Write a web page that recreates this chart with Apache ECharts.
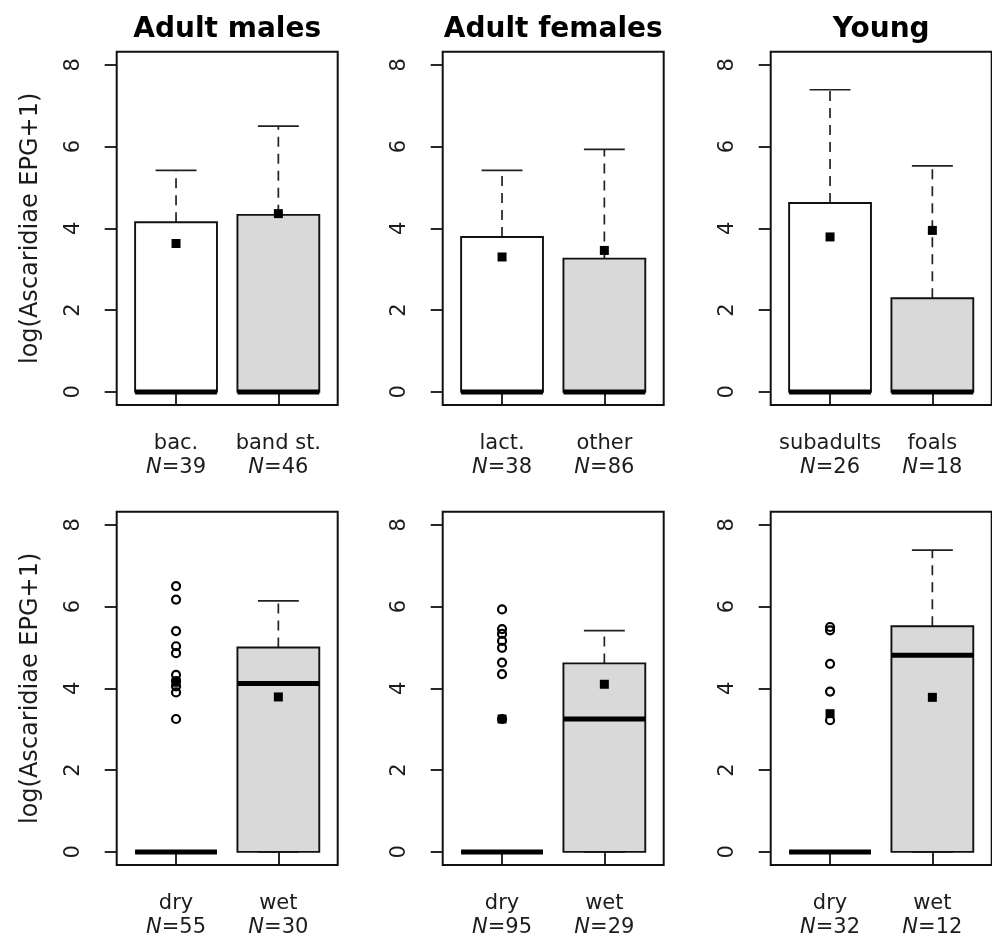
<!DOCTYPE html>
<html>
<head>
<meta charset="utf-8">
<script src="https://cdn.jsdelivr.net/npm/echarts/dist/echarts.min.js"></script>
<style>
html,body{margin:0;padding:0;background:#fff;}
#chart{width:992px;height:939px;}
</style>
</head>
<body>
<div id="chart"></div>
<script>
// ---------- data ----------
const titles = ['Adult males', 'Adult females', 'Young'];
const topCats = [['bac.', 'band st.'], ['lact.', 'other'], ['subadults', 'foals']];
const topN = [[39, 46], [38, 86], [26, 18]];
const bottomCats = [['dry', 'wet'], ['dry', 'wet'], ['dry', 'wet']];
const bottomN = [[55, 30], [95, 29], [32, 12]];
const yTicks = [0, 2, 4, 6, 8];
const yName = 'log(Ascaridiae EPG+1)';

// box statistics per group: [q1, median, q3, lower whisker, upper whisker]
const topBoxes = [
  [[0, 0, 4.15, 0, 5.42], [0, 0, 4.33, 0, 6.50]],
  [[0, 0, 3.79, 0, 5.42], [0, 0, 3.26, 0, 5.93]],
  [[0, 0, 4.62, 0, 7.39], [0, 0, 2.29, 0, 5.53]]
];
const bottomBoxes = [
  [[0, 0, 0, 0, 0], [0, 4.12, 5.00, 0, 6.14]],
  [[0, 0, 0, 0, 0], [0, 3.25, 4.61, 0, 5.41]],
  [[0, 0, 0, 0, 0], [0, 4.81, 5.52, 0, 7.38]]
];
// group means
const topMeans = [[3.63, 4.36], [3.30, 3.46], [3.79, 3.95]];
const bottomMeans = [[4.15, 3.79], [3.25, 4.10], [3.38, 3.78]];
// outliers per group
const bottomOutliers = [
  [[6.50, 6.17, 5.40, 5.03, 4.86, 4.33, 4.18, 4.05, 3.90, 3.25], []],
  [[5.93, 5.45, 5.33, 5.16, 4.99, 4.63, 4.35, 3.25], []],
  [[5.50, 5.42, 4.60, 3.92, 3.22], []]
];

// ---------- layout / style ----------
const FONT = '"DejaVu Sans", "Liberation Sans", sans-serif';
const colLeft = [116.7, 442.7, 770.7];
const rowTop = [51.7, 511.7];
const gridW = 221, gridH = 353.3;
const fills = ['#ffffff', '#d9d9d9'];
const INK = '#111111';
const TXT = '#1c1c1c';

const grids = [], xAxes = [], yAxes = [], series = [], graphics = [];

function renderBox(params, api) {
  const x = api.value(0), q1 = api.value(1), med = api.value(2), q3 = api.value(3);
  const lo = api.value(4), hi = api.value(5), fi = api.value(6);
  const half = 0.4, st = 0.2;
  const tl = api.coord([x - half, q3]);
  const br = api.coord([x + half, q1]);
  const children = [];
  const dash = {stroke: '#222', lineWidth: 1.7, lineDash: [10, 7]};
  const solid = {stroke: '#222', lineWidth: 1.7};
  const c = api.coord([x, 0])[0];
  if (hi > q3) {
    const a = api.coord([x, q3]), b = api.coord([x, hi]);
    children.push({type: 'line', shape: {x1: c, y1: a[1], x2: c, y2: b[1]}, style: dash});
  }
  {
    const a = api.coord([x - st, hi]), b = api.coord([x + st, hi]);
    children.push({type: 'line', shape: {x1: a[0], y1: a[1], x2: b[0], y2: b[1]}, style: solid});
  }
  if (lo < q1) {
    const a = api.coord([x, lo]), b = api.coord([x, q1]);
    children.push({type: 'line', shape: {x1: c, y1: a[1], x2: c, y2: b[1]}, style: dash});
  }
  {
    const a = api.coord([x - st, lo]), b = api.coord([x + st, lo]);
    children.push({type: 'line', shape: {x1: a[0], y1: a[1], x2: b[0], y2: b[1]}, style: solid});
  }
  children.push({type: 'rect', shape: {x: tl[0], y: tl[1], width: br[0] - tl[0], height: br[1] - tl[1]},
    style: {fill: fills[fi], stroke: INK, lineWidth: 1.9}});
  const m1 = api.coord([x - half, med]), m2 = api.coord([x + half, med]);
  children.push({type: 'line', shape: {x1: m1[0], y1: m1[1], x2: m2[0], y2: m2[1]},
    style: {stroke: '#000', lineWidth: 5}});
  return {type: 'group', children: children};
}

function addPanel(idx, row, col, cats, ns, boxes, means, outliers) {
  grids.push({left: colLeft[col], top: rowTop[row], width: gridW, height: gridH,
    show: true, borderColor: INK, borderWidth: 2, backgroundColor: 'transparent', containLabel: false});
  xAxes.push({
    type: 'value', gridIndex: idx, min: 0.42, max: 2.58,
    axisLine: {show: false}, splitLine: {show: false},
    axisTick: {show: true, customValues: [1, 2], length: 13, lineStyle: {color: INK, width: 1.8}},
    axisLabel: {
      show: true, customValues: [1, 2], margin: 27,
      formatter: function (v) {
        const i = Math.round(v) - 1;
        return '{c|' + cats[i] + '}\n{n|N}{c|=' + ns[i] + '}';
      },
      rich: {
        c: {fontFamily: FONT, fontSize: 21, color: TXT, lineHeight: 24},
        n: {fontFamily: FONT, fontSize: 21, color: TXT, lineHeight: 24, fontStyle: 'italic'}
      }
    }
  });
  yAxes.push({
    type: 'value', gridIndex: idx, min: -0.32, max: 8.32,
    axisLine: {show: false}, splitLine: {show: false},
    axisTick: {show: true, customValues: yTicks, length: 12, lineStyle: {color: INK, width: 1.8}},
    axisLabel: {show: true, customValues: yTicks, rotate: 90, margin: 33,
      fontFamily: FONT, fontSize: 21, color: TXT},
    name: col === 0 ? yName : '',
    nameLocation: 'middle', nameGap: 74, nameRotate: 90,
    nameTextStyle: {fontFamily: FONT, fontSize: 24, color: TXT}
  });
  const boxData = boxes.map((b, i) => [i + 1, b[0], b[1], b[2], b[3], b[4], i]);
  series.push({type: 'custom', xAxisIndex: idx, yAxisIndex: idx, renderItem: renderBox,
    data: boxData, silent: true, z: 2});
  const outData = [];
  outliers.forEach((arr, i) => arr.forEach(v => outData.push([i + 1, v])));
  series.push({type: 'scatter', xAxisIndex: idx, yAxisIndex: idx, data: outData,
    symbol: 'circle', symbolSize: 8, silent: true, z: 3,
    itemStyle: {color: 'rgba(255,255,255,0)', borderColor: '#000', borderWidth: 2.2, opacity: 1}});
  series.push({type: 'scatter', xAxisIndex: idx, yAxisIndex: idx,
    data: means.map((m, i) => [i + 1, m]), symbol: 'rect', symbolSize: 9, silent: true, z: 4,
    itemStyle: {color: '#000', opacity: 1}});
}

for (let c = 0; c < 3; c++) {
  addPanel(c, 0, c, topCats[c], topN[c], topBoxes[c], topMeans[c], [[], []]);
}
for (let c = 0; c < 3; c++) {
  addPanel(3 + c, 1, c, bottomCats[c], bottomN[c], bottomBoxes[c], bottomMeans[c], bottomOutliers[c]);
}
for (let c = 0; c < 3; c++) {
  graphics.push({type: 'text', x: colLeft[c] + gridW / 2, y: 30,
    style: {text: titles[c], textAlign: 'center', textVerticalAlign: 'middle',
      font: 'bold 28px ' + FONT, fill: '#000'}});
}

const chart = echarts.init(document.getElementById('chart'), null, {renderer: 'canvas'});
chart.setOption({
  animation: false,
  backgroundColor: '#ffffff',
  grid: grids, xAxis: xAxes, yAxis: yAxes, series: series, graphic: graphics
});
</script>
</body>
</html>
